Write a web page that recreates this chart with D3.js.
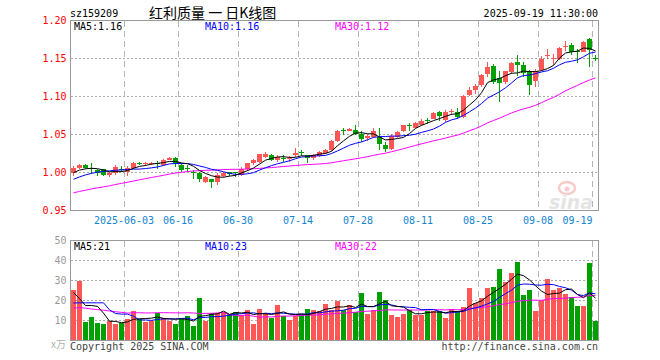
<!DOCTYPE html>
<html><head><meta charset="utf-8">
<script src="https://cdn.jsdelivr.net/npm/d3@7"></script>
<style>
body{margin:0;background:#fff}
svg{display:block}
text{font-family:"DejaVu Sans Mono",monospace;font-size:10px}
</style>
</head><body>
<svg id="c" width="660" height="360"></svg>
<script>
// ---------- data ----------
const dates = ["05-20","05-21","05-22","05-23","05-26","05-27","05-28","05-29","05-30",
"06-03","06-04","06-05","06-06","06-09","06-10","06-11","06-12","06-13","06-16","06-17","06-18","06-19","06-20","06-23","06-24","06-25","06-26","06-27","06-30",
"07-01","07-02","07-03","07-04","07-07","07-08","07-09","07-10","07-11","07-14","07-15","07-16","07-17","07-18","07-21","07-22","07-23","07-24","07-25","07-28","07-29","07-30","07-31",
"08-01","08-04","08-05","08-06","08-07","08-08","08-11","08-12","08-13","08-14","08-15","08-18","08-19","08-20","08-21","08-22","08-25","08-26","08-27","08-28","08-29",
"09-01","09-02","09-03","09-04","09-05","09-08","09-09","09-10","09-11","09-12","09-15","09-16","09-17","09-18","09-19"];

const open  = [0.999,1.006,1.010,1.006,1.003,1.004,0.997,0.999,1.005,1.000,1.006,1.013,1.011,1.011,1.012,1.010,1.017,1.019,1.010,1.0065,
1.001,0.999,0.988,0.991,0.987,0.995,1.000,1.000,0.997,1.004,1.012,1.014,1.021,1.023,1.016,1.019,1.018,1.023,1.027,1.023,
1.019,1.022,1.026,1.030,1.041,1.056,1.055,1.056,1.050,1.046,1.047,1.047,1.036,1.031,1.047,1.054,1.063,1.059,1.062,1.0690,
1.071,1.079,1.069,1.080,1.079,1.073,1.102,1.108,1.115,1.129,1.140,1.124,1.119,1.132,1.145,1.141,1.133,1.120,1.135,1.153,
1.150,1.149,1.165,1.168,1.160,1.159,1.175,1.151];
const high  = [1.009,1.011,1.011,1.012,1.005,1.005,1.001,1.010,1.009,1.008,1.014,1.014,1.014,1.014,1.015,1.018,1.021,1.020,1.012,1.010,
1.003,1.000,0.995,0.992,0.999,1.001,1.001,1.001,1.007,1.013,1.018,1.025,1.027,1.024,1.023,1.023,1.022,1.032,1.030,1.023,
1.024,1.028,1.031,1.043,1.056,1.058,1.058,1.062,1.055,1.050,1.059,1.058,1.040,1.050,1.054,1.063,1.065,1.066,1.070,1.072,
1.080,1.081,1.082,1.083,1.085,1.102,1.112,1.116,1.130,1.145,1.143,1.133,1.134,1.146,1.154,1.146,1.135,1.136,1.153,1.162,
1.156,1.165,1.173,1.170,1.162,1.173,1.177,1.155];
const low   = [0.995,1.005,1.004,0.998,0.995,0.995,0.994,0.997,1.000,0.996,1.004,1.010,1.009,1.010,1.004,1.008,1.016,1.007,1.001,1.001,
0.991,0.987,0.986,0.979,0.984,0.994,0.995,0.994,0.995,1.002,1.010,1.013,1.019,1.015,1.014,1.014,1.014,1.021,1.022,1.013,
1.017,1.021,1.025,1.028,1.040,1.049,1.054,1.049,1.040,1.041,1.045,1.030,1.027,1.030,1.045,1.053,1.055,1.058,1.061,1.064,
1.070,1.068,1.067,1.076,1.071,1.072,1.100,1.103,1.112,1.125,1.117,1.093,1.117,1.130,1.127,1.126,1.102,1.113,1.133,1.149,
1.141,1.148,1.160,1.155,1.144,1.158,1.139,1.147];
const close = [1.006,1.010,1.006,1.004,0.999,0.997,0.999,1.007,1.004,1.006,1.012,1.011,1.013,1.013,1.011,1.017,1.019,1.013,1.003,1.006,
1.000,0.991,0.994,0.988,0.997,0.999,0.998,0.9995,1.004,1.012,1.016,1.024,1.025,1.016,1.021,1.018,1.019,1.026,1.026,1.019,
1.023,1.027,1.030,1.041,1.055,1.055,1.057,1.051,1.044,1.048,1.054,1.037,1.031,1.048,1.053,1.062,1.062,1.065,1.068,1.0685,
1.078,1.075,1.080,1.081,1.073,1.101,1.109,1.114,1.128,1.139,1.119,1.118,1.133,1.144,1.141,1.131,1.115,1.133,1.150,1.155,
1.151,1.164,1.166,1.158,1.159,1.172,1.161,1.150];
// volume, unit: 万
const volume = [25.5,29.7,9.2,12,9,8.5,9.7,8.5,8.8,11,15,11,9.2,9.7,14,11.3,9.7,8.5,10.7,12.3,
7.5,21.5,10,14,13.7,14.3,13.3,14.5,13,15.5,8.5,16,13.7,11.5,18,12.3,10.5,12.5,13.2,16,
15.5,15,18.5,15.3,19.7,15.3,18,14.2,24,13.5,15.3,24.5,20.5,13,12,13.5,15.3,13,13,15,
15,15,11.5,16,15,17,26.5,19,21.5,26.5,27,36,29.5,34,39.5,23,25.5,15,20.5,31,
25.5,26.5,23.5,22,17.5,17.5,39,10];
// sessions before the visible window (only feed the moving averages)
const prevClose = [0.955,0.958,0.953,0.956,0.960,0.957,0.955,0.959,0.962,0.962,0.965,0.968,0.966,0.970,0.972,0.969,0.973,0.975,0.975,0.978,
0.978,0.980,0.983,0.984,0.986,0.993,0.998,1.000,1.002];
const prevVolume = [22,18,24,19,17,21,20,18,22,11,10,12,10,11,10,11,10,12,10,10.5,
29,9,12,9,8.5,45,26.4,12,11.1];

const priceTicks = [0.95,1.00,1.05,1.10,1.15,1.20];
const volTicks = [10,20,30,40,50];
const dateTicks = ["06-03","06-16","06-30","07-14","07-28","08-11","08-25","09-08","09-19"];
const dateTickLabels = ["2025-06-03","06-16","06-30","07-14","07-28","08-11","08-25","09-08","09-19"];
const code = "sz159209";
const title = "红利质量 一 日K线图";
const stamp = "2025-09-19 11:30:00";

// ---------- helpers ----------
const N = close.length;
function movingAvg(prev, cur, n){
  const all = prev.concat(cur), off = prev.length;
  return cur.map((_, i) => d3.mean(all.slice(off + i - n + 1, off + i + 1)));
}
const pMA = {5: movingAvg(prevClose, close, 5), 10: movingAvg(prevClose, close, 10), 30: movingAvg(prevClose, close, 30)};
const vMA = {5: movingAvg(prevVolume, volume, 5), 10: movingAvg(prevVolume, volume, 10), 30: movingAvg(prevVolume, volume, 30)};

const UP = "#ff5656", DOWN = "#00a000";
const MAC = {5: "#000000", 10: "#0000ff", 30: "#ff00ff"};

const L = 70.5, R = 598.5;
const x = d3.scaleBand().domain(d3.range(N)).range([L, R]).paddingInner(1/6).paddingOuter(1/12);
const xl = d3.scaleLinear().domain([0, N]).range([L, R]);
const y = d3.scaleLinear().domain([0.95, 1.20]).range([210.5, 20.5]);
const yv = d3.scaleLinear().domain([0, 50]).range([340.5, 240.5]);

const svg = d3.select("#c");

// watermark
const wm = svg.append("g").attr("opacity", 0.55);
wm.append("ellipse").attr("cx", 567).attr("cy", 188).attr("rx", 8).attr("ry", 6).attr("fill", "none").attr("stroke", "#f4a0a0").attr("stroke-width", 2.5);
wm.append("circle").attr("cx", 567).attr("cy", 189).attr("r", 2.5).attr("fill", "#f4a0a0");
wm.append("text").attr("x", 571).attr("y", 209).attr("text-anchor", "middle")
  .style("font-family", "DejaVu Sans").style("font-size", "19px").style("font-style", "italic").style("font-weight", "bold")
  .attr("fill", "#cfcfcf").text("sina");

// grids
const grid = svg.append("g").attr("shape-rendering", "crispEdges");
const tickIdx = dateTicks.map(d => dates.indexOf(d));
[[20.5, 210.5], [240.5, 340.5]].forEach(([a, b]) => {
  grid.selectAll(null).data(tickIdx).join("line")
    .attr("x1", d => xl(d)).attr("x2", d => xl(d)).attr("y1", a).attr("y2", b)
    .attr("stroke", "#b4b4b4").attr("stroke-dasharray", "6,4");
});
grid.selectAll(null).data(priceTicks.slice(1, -1)).join("line")
  .attr("x1", L).attr("x2", R).attr("y1", d => y(d)).attr("y2", d => y(d))
  .attr("stroke", "#aaaaaa").attr("stroke-dasharray", "2,2");
grid.selectAll(null).data(volTicks.slice(0, -1)).join("line")
  .attr("x1", L).attr("x2", R).attr("y1", d => yv(d)).attr("y2", d => yv(d))
  .attr("stroke", "#aaaaaa").attr("stroke-dasharray", "2,2");

// candles
const cg = svg.append("g").attr("shape-rendering", "crispEdges");
const idx = d3.range(N);
cg.selectAll(null).data(idx).join("line")
  .attr("x1", i => x(i) + 2.5).attr("x2", i => x(i) + 2.5)
  .attr("y1", i => Math.round(y(high[i]))).attr("y2", i => Math.round(y(low[i])))
  .attr("stroke", i => close[i] >= open[i] ? UP : DOWN);
cg.selectAll(null).data(idx).join("rect")
  .attr("x", i => x(i)).attr("width", x.bandwidth())
  .attr("y", i => Math.round(y(Math.max(open[i], close[i]))))
  .attr("height", i => Math.max(1, Math.round(y(Math.min(open[i], close[i]))) - Math.round(y(Math.max(open[i], close[i])))))
  .attr("fill", i => close[i] >= open[i] ? UP : DOWN);

// volume bars
cg.selectAll(null).data(idx).join("rect")
  .attr("x", i => x(i)).attr("width", x.bandwidth())
  .attr("y", i => Math.round(yv(volume[i])))
  .attr("height", i => 340 - Math.round(yv(volume[i])))
  .attr("fill", i => close[i] >= open[i] ? UP : DOWN);

// MA lines
[30, 10, 5].forEach(n => {
  svg.append("path").datum(pMA[n]).attr("fill", "none").attr("stroke", MAC[n]).attr("stroke-width", 1)
    .attr("d", d3.line().x((d, i) => x(i) + 2.5).y(d => y(d)));
  svg.append("path").datum(vMA[n]).attr("fill", "none").attr("stroke", MAC[n]).attr("stroke-width", 1)
    .attr("d", d3.line().x((d, i) => x(i) + 2.5).y(d => yv(d)));
});

// frames
svg.append("g").attr("shape-rendering", "crispEdges").selectAll(null)
  .data([[20.5, 210.5], [240.5, 340.5]]).join("rect")
  .attr("x", L).attr("y", d => d[0]).attr("width", R - L).attr("height", d => d[1] - d[0])
  .attr("fill", "none").attr("stroke", "#9a9a9a").attr("stroke-width", 1.5);

// axes
const ay = svg.append("g").attr("transform", `translate(${L},0)`)
  .call(d3.axisLeft(y).tickValues(priceTicks).tickFormat(d3.format(".2f")).tickSize(0).tickPadding(4));
ay.select(".domain").remove();
ay.selectAll("text").attr("fill", "#ff0000").style("font-size", "10px").style("font-family", "DejaVu Sans Mono");

const av = svg.append("g").attr("transform", `translate(${L},0)`)
  .call(d3.axisLeft(yv).tickValues(volTicks).tickFormat(d3.format("d")).tickSize(0).tickPadding(4));
av.select(".domain").remove();
av.selectAll("text").attr("fill", "#9a9a9a").style("font-size", "10px").style("font-family", "DejaVu Sans Mono");

const ax = svg.append("g").attr("transform", "translate(-1,211)")
  .call(d3.axisBottom(xl).tickValues(tickIdx).tickFormat((d, k) => dateTickLabels[k]).tickSize(0).tickPadding(6));
ax.select(".domain").remove();
ax.selectAll("text").attr("fill", "#1383d2").style("font-size", "10px").style("font-family", "DejaVu Sans Mono");
ax.selectAll("text").filter((d, k) => k === tickIdx.length - 1).attr("text-anchor", "end").attr("x", R - 6.5 - xl(tickIdx[tickIdx.length - 1]) + 1);

// texts
const t = (xx, yy, s, col, anchor) => svg.append("text").attr("x", xx).attr("y", yy).attr("fill", col)
  .attr("text-anchor", anchor || "start").attr("dominant-baseline", "central").text(s);
t(70, 13, code, "#000");
svg.append("text").attr("x", 149).attr("y", 12).attr("dominant-baseline", "central")
  .style("font-family", "'Noto Sans CJK SC'").style("font-size", "14px").attr("fill", "#000").text(title);
t(598, 13, stamp, "#000", "end");

const f2 = d3.format(".2f"), f0 = d3.format(".0f");
t(74, 26.5, "MA5:" + f2(pMA[5][N - 1]), MAC[5]);
t(205, 26.5, "MA10:" + f2(pMA[10][N - 1]), MAC[10]);
t(335, 26.5, "MA30:" + f2(pMA[30][N - 1]), MAC[30]);
t(74, 246, "MA5:" + f0(vMA[5][N - 1]), MAC[5]);
t(205, 246, "MA10:" + f0(vMA[10][N - 1]), MAC[10]);
t(335, 246, "MA30:" + f0(vMA[30][N - 1]), MAC[30]);

svg.append("text").attr("x", 66).attr("y", 343).attr("text-anchor", "end").attr("dominant-baseline", "central")
  .attr("fill", "#b0b0b0").style("font-family", "'Noto Sans CJK SC'").style("font-size", "10px").text("x万");
t(70, 346, "Copyright 2025 SINA.COM", "#444");
t(598, 346, "http://finance.sina.com.cn", "#444", "end");
</script>
</body></html>
